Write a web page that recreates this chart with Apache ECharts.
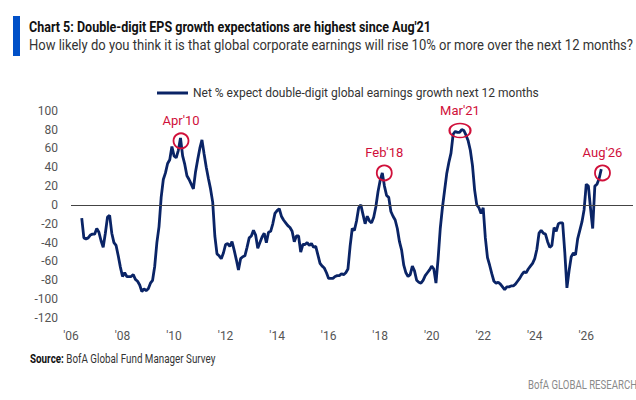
<!DOCTYPE html>
<html>
<head>
<meta charset="utf-8">
<script src="https://cdn.jsdelivr.net/npm/echarts@6/dist/echarts.min.js"></script>
<style>
  html, body { margin: 0; padding: 0; background: #fff; }
  #chart { width: 636px; height: 400px; }
</style>
</head>
<body>
<div id="chart"></div>
<script>
// monthly survey readings, first one is Jun 2006
const startYear = 2006;
const startMonth = 6;
const netPct = [
  -14, -35, -36, -35, -32, -31, -31,                          // 2006 Jun-Dec
  -25, -29, -38, -45, -30, -13, -11, -30, -40, -43, -54, -66, // 2007
  -76, -72, -76, -76, -76, -74, -79, -81, -85, -92, -89, -91, // 2008
  -89, -83, -80, -65, -40, -23, 8, 27, 34, 44, 48, 62,        // 2009
  52, 50, 58, 71, 52, 43, 31, 27, 22, 17, 35, 48,             // 2010
  60, 69, 54, 40, 28, 17, 3, -33, -52, -54, -57, -51,         // 2011
  -42, -41, -44, -39, -48, -58, -69, -57, -55, -54, -45, -35, // 2012
  -33, -27, -32, -46, -40, -34, -30, -40, -29, -28, -20, -9,  // 2013
  -6, -4, -12, -16, -19, -22, -24, -28, -39, -33, -33, -50,   // 2014
  -42, -42, -40, -43, -41, -45, -44, -53, -62, -65, -67, -72, // 2015
  -78, -78, -78, -76, -75, -75, -73, -74, -72, -68, -44, -25, // 2016
  -27, -17, -3, 0, -10, -20, -12, -17, -19, -13, -2, 14,      // 2017
  26, 34, 20, 10, 8, -7, -12, -16, -25, -39, -48, -64,        // 2018
  -72, -76, -74, -65, -70, -80, -82, -83, -80, -75, -72, -69, // 2019
  -65, -68, -83, -57, -25, -3, 15, 33, 45, 55, 75, 78,        // 2020
  77, 77, 80, 79, 74, 68, 58, 42, 16, 0, -3, -9,              // 2021
  -3, -35, -56, -64, -73, -81, -83, -82, -84, -87, -90, -87,  // 2022
  -87, -86, -86, -84, -81, -78, -74, -71, -72, -68, -65, -62, // 2023
  -57, -47, -30, -27, -30, -31, -39, -45, -43, -24, -28, -20, // 2024
  -19, -19, -50, -88, -70, -55, -51, -53, -36, -27, -18, -5,  // 2025
  22, 20, -4, -25, 20, 22, 28, 38                             // 2026 Jan-Aug
];

const yTicks = { min: -120, max: 100, step: 20 };
const xTicks = { min: 2006, step: 2 };

// highlighted readings
const noteLabels = ["Apr'10", "Feb'18", "Mar'21", "Aug'26"];
const noteDates = [2010.27, 2018.16, 2021.1, 2026.63];
const noteValues = [68, 34, 79, 34];

const seriesName = 'Net % expect double-digit global earnings growth next 12 months';

const points = netPct.map((v, i) => [startYear + (startMonth - 1 + i) / 12, v]);

const font = 'Roboto, sans-serif';
const red = '#D0103A';
const navy = '#0A2466';

const notes = noteLabels.map((name, i) => ({
  name: name,
  coord: [noteDates[i], noteValues[i]],
  symbolSize: name === "Mar'21" ? [21, 14] : [15, 15],
  label: { distance: name === "Mar'21" ? 6 : 5 }
}));

const chart = echarts.init(document.getElementById('chart'), null, { renderer: 'svg' });
chart.setOption({
  animation: false,
  textStyle: { fontFamily: font },
  graphic: [
    { type: 'rect', left: 13, top: 16, shape: { width: 7, height: 40 }, style: { fill: '#0050C8' } },
    { type: 'text', left: 29, top: 20, scaleX: 0.895, style: { text: "Chart 5: Double-digit EPS growth expectations are highest since Aug'21", font: 'bold 14px ' + font, fill: '#111' } },
    { type: 'text', left: 29, top: 38, scaleX: 0.93, style: { text: 'How likely do you think it is that global corporate earnings will rise 10% or more over the next 12 months?', font: '14px ' + font, fill: '#333' } },
    {
      type: 'text', left: 30, top: 353, scaleX: 0.82,
      style: {
        text: '{b|Source:} BofA Global Fund Manager Survey',
        font: '12px ' + font,
        fill: '#333',
        rich: { b: { fontWeight: 'bold', fontSize: 12, fontFamily: font, fill: '#111', color: '#111' } }
      }
    },
    { type: 'text', left: 528, top: 379, scaleX: 0.8, style: { text: 'BofA GLOBAL RESEARCH', font: '12px ' + font, fill: '#8a8a8a' } }
  ],
  legend: {
    left: 152,
    top: 82,
    itemWidth: 31,
    itemHeight: 3,
    icon: 'rect',
    textStyle: { fontSize: 12, color: '#333', fontFamily: font },
    data: [seriesName]
  },
  grid: { left: 71, right: 0, top: 110.7, bottom: 82 },
  xAxis: {
    type: 'value',
    min: xTicks.min,
    max: xTicks.min + (636 - 71) / 25.9,
    interval: xTicks.step,
    axisLine: { show: false },
    axisTick: { show: false },
    splitLine: { show: false },
    axisLabel: {
      margin: 12,
      fontSize: 12,
      color: '#555',
      formatter: v => (Number.isInteger(v) && v % 2 === 0) ? "'" + String(v).slice(2) : ''
    }
  },
  yAxis: {
    type: 'value',
    min: yTicks.min,
    max: yTicks.max,
    interval: yTicks.step,
    axisLine: { show: false },
    axisTick: { show: false },
    splitLine: { show: false },
    axisLabel: { margin: 13, fontSize: 12, color: '#555' }
  },
  series: [{
    name: seriesName,
    type: 'line',
    data: points,
    symbol: 'none',
    lineStyle: { color: navy, width: 2.8 },
    itemStyle: { color: navy },
    markLine: {
      silent: true,
      symbol: 'none',
      label: { show: false },
      lineStyle: { color: '#444', width: 1.2, type: 'solid' },
      data: [{ yAxis: 0 }]
    },
    markPoint: {
      silent: true,
      symbol: 'circle',
      itemStyle: { color: 'rgba(0,0,0,0)', borderColor: red, borderWidth: 1.8 },
      label: {
        show: true,
        position: 'top',
        formatter: '{b}',
        color: red,
        fontSize: 13,
        fontFamily: font
      },
      data: notes
    }
  }]
});
</script>
</body>
</html>
